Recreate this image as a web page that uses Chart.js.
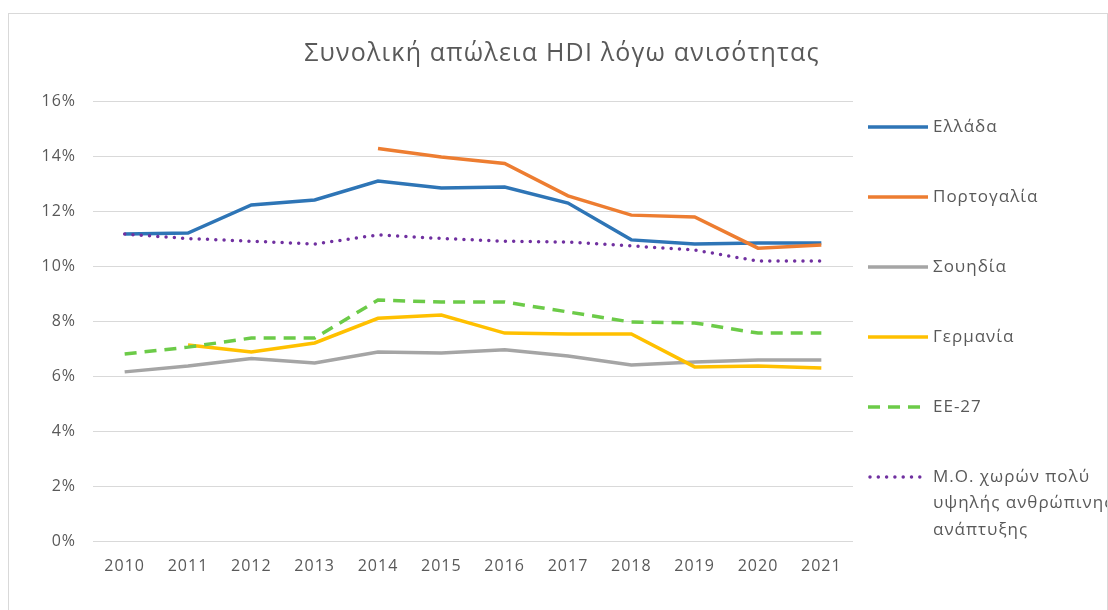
<!DOCTYPE html>
<html>
<head>
<meta charset="utf-8">
<script src="https://cdn.jsdelivr.net/npm/chart.js@4/dist/chart.umd.min.js"></script>
<style>
    html, body { margin: 0; padding: 0; background: #fff; overflow: hidden; }
    #frame {
        position: absolute; left: 8px; top: 13px;
        width: 1098px; height: 620px;
        border: 1px solid #d9d9d9;
    }
    #chart { display: block; }
</style>
</head>
<body>
<div id="frame"><canvas id="chart" width="1098" height="596"></canvas></div>
<script>
// Chart data
const chartTitle = 'Συνολική απώλεια HDI λόγω ανισότητας';
const years = ['2010', '2011', '2012', '2013', '2014', '2015', '2016', '2017', '2018', '2019', '2020', '2021'];
const greece = [11.16, 11.2, 12.22, 12.4, 13.09, 12.84, 12.87, 12.29, 10.95, 10.8, 10.84, 10.84];
const portugal = [null, null, null, null, 14.27, 13.96, 13.73, 12.55, 11.85, 11.78, 10.65, 10.76];
const sweden = [6.15, 6.36, 6.64, 6.47, 6.87, 6.84, 6.95, 6.73, 6.4, 6.51, 6.58, 6.58];
const germany = [null, 7.13, 6.87, 7.2, 8.1, 8.22, 7.56, 7.53, 7.53, 6.33, 6.36, 6.29];
const eu27 = [6.8, 7.05, 7.38, 7.38, 8.76, 8.69, 8.69, 8.33, 7.96, 7.93, 7.56, 7.56];
const veryHighHD = [11.16, 11.0, 10.9, 10.8, 11.13, 11.0, 10.9, 10.87, 10.73, 10.58, 10.18, 10.18];
const yTicks = { min: 0, max: 16, step: 2 };

const textColor = '#595959';
const fontFamily = '"Open Sans", "Noto Sans", sans-serif';

function series(label, data, color, extra) {
    return Object.assign({
        label: label,
        data: data,
        borderColor: color,
        backgroundColor: color,
        borderWidth: 3.5,
        pointRadius: 0,
        pointHoverRadius: 0,
        tension: 0,
        fill: false,
        spanGaps: false
    }, extra || {});
}

const datasets = [
    series('Ελλάδα', greece, '#2E75B6'),
    series('Πορτογαλία', portugal, '#ED7D31'),
    series('Σουηδία', sweden, '#A5A5A5'),
    series('Γερμανία', germany, '#FFC000'),
    series('ΕΕ-27', eu27, '#6CCB48', { borderDash: [12, 8] }),
    series(['Μ.Ο. χωρών πολύ', 'υψηλής ανθρώπινης', 'ανάπτυξης'], veryHighHD, '#7030A0',
        { borderDash: [0, 8.3], borderCapStyle: 'round', borderWidth: 3.5 })
];
// later series are drawn on top, like the original
datasets.forEach((ds, i) => { ds.order = datasets.length - i; });

// Text in the original is a bit wider, so add some letter spacing
const spacing = {
    id: 'spacing',
    beforeDraw(chart) { chart.ctx.letterSpacing = '1px'; },
    afterDraw(chart) { chart.ctx.letterSpacing = '0px'; }
};

// Title and legend drawn on the canvas
const sideLegend = {
    id: 'sideLegend',
    afterDraw(chart) {
        const ctx = chart.ctx;
        const area = chart.chartArea;
        ctx.save();

        // title
        ctx.fillStyle = textColor;
        ctx.font = '25px ' + fontFamily;
        ctx.letterSpacing = '1.2px';
        ctx.textAlign = 'center';
        ctx.textBaseline = 'middle';
        ctx.fillText(chartTitle, chart.width / 2 + 4, 40);

        // legend
        ctx.font = '17px ' + fontFamily;
        ctx.letterSpacing = '1px';
        ctx.textAlign = 'left';
        const x0 = area.right + 15;
        const x1 = x0 + 60;
        let y = area.top + 26;
        chart.data.datasets.forEach(ds => {
            ctx.save();
            ctx.strokeStyle = ds.borderColor;
            ctx.lineWidth = ds.borderWidth;
            ctx.lineCap = ds.borderCapStyle || 'butt';
            ctx.setLineDash(ds.borderDash || []);
            ctx.beginPath();
            ctx.moveTo(x0 + (ds.borderCapStyle === 'round' ? 2 : 0), y);
            ctx.lineTo(x1, y);
            ctx.stroke();
            ctx.restore();

            const lines = Array.isArray(ds.label) ? ds.label : [ds.label];
            lines.forEach((line, k) => {
                ctx.fillText(line, x1 + 5, y + k * 26.5);
            });
            y += 70;
        });
        ctx.restore();
    }
};

const ctx = document.getElementById('chart');
new Chart(ctx, {
    type: 'line',
    data: { labels: years, datasets: datasets },
    options: {
        responsive: false,
        animation: false,
        events: [],
        layout: { padding: { top: 87, right: 254, left: 0, bottom: 0 } },
        plugins: {
            legend: { display: false },
            title: { display: false },
            tooltip: { enabled: false }
        },
        scales: {
            x: {
                offset: true,
                grid: { display: false, drawTicks: false },
                border: { display: false },
                ticks: {
                    color: textColor,
                    font: { family: fontFamily, size: 16 },
                    padding: 16,
                    maxRotation: 0
                },
                afterFit(scale) { scale.height = 69; }
            },
            y: {
                min: yTicks.min,
                max: yTicks.max,
                grid: { color: '#d9d9d9', lineWidth: 1, drawTicks: false },
                border: { display: false },
                ticks: {
                    stepSize: yTicks.step,
                    color: textColor,
                    font: { family: fontFamily, size: 16 },
                    padding: 17,
                    callback: v => v + '%'
                },
                afterFit(scale) { scale.width = 84; }
            }
        }
    },
    plugins: [spacing, sideLegend]
});
</script>
</body>
</html>
